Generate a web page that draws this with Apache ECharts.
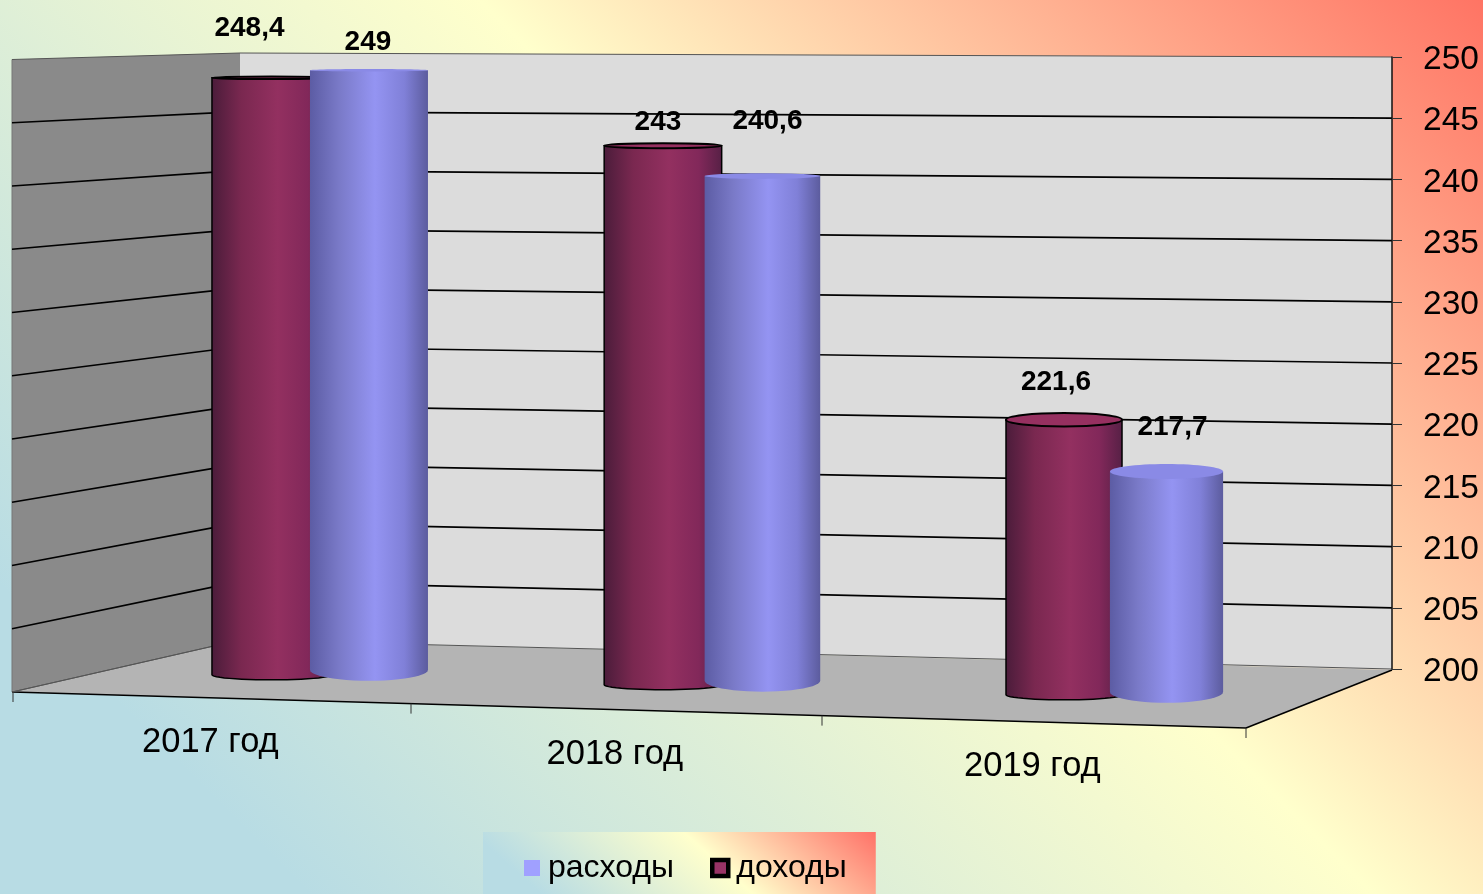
<!DOCTYPE html>
<html>
<head>
<meta charset="utf-8">
<title>Доходы и расходы</title>
<style>
    html, body { margin: 0; padding: 0; }
    #container { width: 1483px; height: 894px; }
</style>
<script src="https://cdn.jsdelivr.net/npm/echarts@6/dist/echarts.min.js"></script>
</head>
<body>
<div id="container"></div>
<script>
const categories = ['2017 год', '2018 год', '2019 год']
const incomeValues = [248.4, 243, 221.6]
const expenseValues = [249, 240.6, 217.7]
const gridValues = [200, 205, 210, 215, 220, 225, 230, 235, 240, 245, 250]
const incomeName = 'доходы'
const expenseName = 'расходы'

const FONT = '"Liberation Sans", Arial, sans-serif'
const gridLeft = 13
const gridRight = 1392
const gridTop = 57
const gridHeight = 612

// нормированная высота: 0 на значении 250, 1 на значении 200
const axisFrac = (api, v) => {
    const a = api.coord([0, 250])[1]
    const b = api.coord([0, 200])[1]
    return (api.coord([0, v])[1] - a) / (b - a)
}
// передний край пола (с перспективой) и задняя стена
const frontX = (t) => 13 + 1174.5 * t + 58.5 * t * t
const frontY = (x) => 692 + 0.0292 * (x - 13)
const backX = (t) => 240 + 1152 * t
const leftY = (f) => 59.5 + 632.5 * f
const backLeftY = (f) => 53 + 587 * f
const toT = (px) => (px - gridLeft) / (gridRight - gridLeft)

const renderWalls = () => {
    const a = [12, 692]
    const b = [240, 640]
    const c = [gridRight, 670]
    const d = [1246, 728]
    const top = [240, 53]
    const poly = (points, fill) => ({
        type: 'polygon',
        shape: { points: points },
        style: { fill: fill },
    })
    const line = (p, q, color, width) => ({
        type: 'line',
        shape: { x1: p[0], y1: p[1], x2: q[0], y2: q[1] },
        style: { stroke: color, lineWidth: width },
    })
    return {
        type: 'group',
        children: [
            poly([[12, 59.5], top, b, a], '#8a8a8a'),
            poly([top, [gridRight, 57], c, b], '#dcdcdc'),
            poly([a, b, c, d], '#b4b4b4'),
            line([12, 59.5], a, '#777', 1),
            line(a, d, '#000', 1.6),
            line(d, c, '#000', 1.6),
            line(a, b, '#555', 1),
        ],
    }
}

const renderGridLine = (params, api) => {
    const v = api.value(0)
    const f = axisFrac(api, v)
    const edge = v === 200 || v === 250
    return {
        type: 'polyline',
        shape: { points: [[12, leftY(f)], [240, backLeftY(f)], [gridRight, api.coord([0, v])[1]]] },
        style: { stroke: edge ? '#555' : '#000', lineWidth: edge ? 1 : 1.7, fill: null },
    }
}

const renderCategory = (params, api) => {
    const i = api.value(0)
    const cx = api.coord([i, 200])[0]
    const band = api.size([1, 0])[0]
    const x = frontX(toT(cx))
    const children = [{
        type: 'text',
        style: {
            x: x,
            y: frontY(x) + 45,
            text: categories[i],
            fill: '#000',
            font: '34.5px ' + FONT,
            align: 'center',
            verticalAlign: 'middle',
        },
    }]
    const tick = (px) => ({
        type: 'line',
        shape: { x1: px, y1: frontY(px), x2: px, y2: frontY(px) + 10 },
        style: { stroke: '#333', lineWidth: 1 },
    })
    children.push(tick(frontX(toT(cx + band / 2))))
    if (i === 0) children.push(tick(frontX(toT(cx - band / 2))))
    return { type: 'group', children: children }
}

const ellipsePoints = (cx, cy, rx, ry, from, to) => {
    const pts = []
    for (let k = 0; k <= 24; k++) {
        const a = from + (to - from) * k / 24
        pts.push([cx + rx * Math.cos(a), cy + ry * Math.sin(a)])
    }
    return pts
}

// цилиндр: боковая поверхность + верхний эллипс + подпись
const cylinder = (cfg) => (params, api) => {
    const i = api.value(0)
    const v = api.value(1)
    const t = toT(api.coord([i, v])[0])
    const cx = frontX(t) + (backX(t) - frontX(t)) * 0.49 + cfg.offset[i]
    const rx = cfg.halfWidth - cfg.shrink * i
    const baseY = cfg.baseA + cfg.baseB * cx
    const topY = 58 + (baseY - 58) * axisFrac(api, v) + cfg.capShift[i]
    const topRy = 1 + 0.2 * (250 - v)
    const points = [[cx - rx, topY]]
        .concat([[cx - rx, baseY]])
        .concat(ellipsePoints(cx, baseY, rx, cfg.baseRy, Math.PI, 0))
        .concat([[cx + rx, topY]])
    const body = {
        type: 'polygon',
        shape: { points: points },
        style: {
            fill: {
                type: 'linear', x: 0, y: 0, x2: 1, y2: 0,
                colorStops: cfg.stops,
            },
            stroke: cfg.stroke,
            lineWidth: cfg.stroke ? 1.5 : 0,
        },
    }
    const cap = {
        type: 'ellipse',
        shape: { cx: cx, cy: topY, rx: rx, ry: topRy },
        style: { fill: cfg.capColor, stroke: cfg.stroke, lineWidth: cfg.stroke ? 2 : 0 },
    }
    const label = {
        type: 'text',
        style: {
            x: cx + cfg.labelShift[i][0],
            y: topY + cfg.labelShift[i][1],
            text: String(v).replace('.', ','),
            fill: '#000',
            font: 'bold 28px ' + FONT,
            align: 'center',
            verticalAlign: 'middle',
        },
    }
    return { type: 'group', children: [body, cap, label] }
}

let option = {
    animation: false,
    backgroundColor: {
        type: 'linear',
        global: true,
        x: 0, y: 894, x2: 1188.5, y2: -294.5,
        colorStops: [
            { offset: 0.13, color: '#b8dce4' },
            { offset: 0.578, color: '#ffffcc' },
            { offset: 1, color: '#ff7464' },
        ],
    },
    grid: {
        left: gridLeft,
        top: gridTop,
        width: gridRight - gridLeft,
        height: gridHeight,
    },
    xAxis: {
        type: 'category',
        data: categories,
        show: false,
    },
    yAxis: {
        type: 'value',
        position: 'right',
        min: 200,
        max: 250,
        interval: 5,
        z: 10,
        axisLine: { show: true, lineStyle: { color: '#111', width: 1.5 } },
        axisTick: { show: true, length: 10, lineStyle: { color: '#333', width: 1 } },
        axisLabel: {
            color: '#000',
            fontSize: 33.5,
            fontFamily: FONT,
            margin: 31,
            verticalAlign: 'top', //подпись чуть ниже риски
            lineHeight: 6,
        },
        splitLine: { show: false },
    },
    legend: {
        left: 483,
        top: 832,
        padding: [20, 29, 18, 41],
        itemWidth: 16,
        itemHeight: 16,
        itemGap: 36,
        textStyle: { color: '#000', fontSize: 32, fontFamily: FONT, padding: [8, 0, 0, 3] },
        backgroundColor: {
            type: 'linear',
            x: 0, y: 1, x2: 0.579, y2: -2.67,
            colorStops: [
                { offset: 0.13, color: '#b8dce4' },
                { offset: 0.54, color: '#ffffcc' },
                { offset: 1, color: '#ff5050' },
            ],
        },
        data: [
            { name: expenseName, icon: 'rect', itemStyle: { color: '#a0a0ff' } },
            { name: incomeName, icon: 'rect', itemStyle: { color: '#993366', borderColor: '#000', borderWidth: 4.5 } },
        ],
    },
    series: [
        {
            type: 'custom',
            name: 'walls',
            data: [[0, 200]],
            renderItem: renderWalls,
            silent: true,
        },
        {
            type: 'custom',
            name: 'gridLines',
            coordinateSystem: 'cartesian2d',
            encode: { x: 1, y: 0 },
            data: gridValues.map((v) => [v, 0]),
            renderItem: renderGridLine,
            silent: true,
        },
        {
            type: 'custom',
            name: 'categories',
            data: categories.map((c, i) => [i, 200]),
            renderItem: renderCategory,
            silent: true,
        },
        {
            type: 'custom',
            name: incomeName,
            itemStyle: { color: '#993366' },
            data: incomeValues.map((v, i) => [i, v]),
            renderItem: cylinder({
                offset: [-47.5, -50.5, -50.5],
                halfWidth: 59.5,
                shrink: 0.75,
                baseA: 668,
                baseB: 0.0252,
                baseRy: 5,
                capShift: [0, 0, 0],
                stroke: '#000',
                capColor: '#963060',
                stops: [
                    { offset: 0, color: '#4a1c3a' },
                    { offset: 0.25, color: '#7a2850' },
                    { offset: 0.55, color: '#933060' },
                    { offset: 0.8, color: '#82285a' },
                    { offset: 1, color: '#562045' },
                ],
                labelShift: [[-22, -49], [-5, -23], [-8, -37]],
            }),
        },
        {
            type: 'custom',
            name: expenseName,
            itemStyle: { color: '#a0a0ff' },
            data: expenseValues.map((v, i) => [i, v]),
            renderItem: cylinder({
                offset: [50, 49, 52],
                halfWidth: 59,
                shrink: 1.2,
                baseA: 659.6,
                baseB: 0.0276,
                baseRy: 11,
                capShift: [0, 1, 4],
                stroke: null,
                capColor: '#8a8ae6',
                stops: [
                    { offset: 0, color: '#5c5ca4' },
                    { offset: 0.25, color: '#7a7ac8' },
                    { offset: 0.55, color: '#9494f2' },
                    { offset: 0.8, color: '#8080d8' },
                    { offset: 1, color: '#5c5c9e' },
                ],
                labelShift: [[-1, -28], [5, -55], [6, -44]],
            }),
        },
    ],
}

const myChart = echarts.init(document.getElementById('container'))
myChart.setOption(option)
</script>
</body>
</html>
